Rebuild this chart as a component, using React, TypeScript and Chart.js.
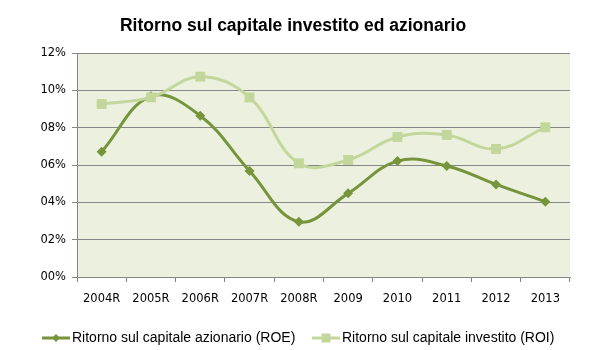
import React, { useEffect, useRef } from "react";
import { Chart, registerables } from "chart.js";

Chart.register(...registerables);

const categories = ["2004R", "2005R", "2006R", "2007R", "2008R", "2009", "2010", "2011", "2012", "2013"];
const roe = [0.0671, 0.0968, 0.0864, 0.0568, 0.0296, 0.0448, 0.0621, 0.0595, 0.0496, 0.0403];
const roi = [0.0927, 0.0962, 0.1073, 0.0962, 0.0609, 0.0627, 0.075, 0.0761, 0.0686, 0.0802];
const titleText = "Ritorno sul capitale investito ed azionario";
const roeLabel = "Ritorno sul capitale azionario (ROE)";
const roiLabel = "Ritorno sul capitale investito (ROI)";

const ROE_COLOR = "#77933C";
const ROI_COLOR = "#C3D69B";
const SANS = '"Liberation Sans", Arial, sans-serif';

const decorPlugin = {
  id: "decor",
  beforeDraw(chart: any) {
    const { ctx, chartArea } = chart;
    ctx.save();
    ctx.fillStyle = "#EBF1DE";
    ctx.fillRect(chartArea.left, chartArea.top, chartArea.right - chartArea.left, chartArea.bottom - chartArea.top);
    ctx.restore();
  },
  afterDraw(chart: any) {
    const { ctx } = chart;
    ctx.save();
    ctx.fillStyle = "#000";
    ctx.font = "bold 17.5px " + SANS;
    ctx.textAlign = "center";
    ctx.textBaseline = "alphabetic";
    ctx.fillText(titleText, 293, 31);

    const items = [
      { x: 42, label: roeLabel, color: ROE_COLOR, style: "diamond" },
      { x: 312, label: roiLabel, color: ROI_COLOR, style: "square" },
    ];
    const y = 338;
    for (const it of items) {
      ctx.strokeStyle = it.color;
      ctx.lineWidth = 3;
      ctx.beginPath();
      ctx.moveTo(it.x, y);
      ctx.lineTo(it.x + 28, y);
      ctx.stroke();
      ctx.fillStyle = it.color;
      const cx = it.x + 14;
      if (it.style === "diamond") {
        ctx.beginPath();
        ctx.moveTo(cx, y - 4);
        ctx.lineTo(cx + 4, y);
        ctx.lineTo(cx, y + 4);
        ctx.lineTo(cx - 4, y);
        ctx.closePath();
        ctx.fill();
      } else {
        ctx.fillRect(cx - 4.5, y - 4.5, 9, 9);
      }
      ctx.fillStyle = "#000";
      ctx.font = "14px " + SANS;
      ctx.textAlign = "left";
      ctx.textBaseline = "middle";
      ctx.fillText(it.label, it.x + 30, y);
    }
    ctx.restore();
  },
};

export default function App() {
  const ref = useRef<HTMLCanvasElement>(null);
  useEffect(() => {
    if (!ref.current) return;
    const chart = new Chart(ref.current, {
      type: "line",
      data: {
        labels: categories,
        datasets: [
          {
            label: roeLabel,
            data: roe,
            borderColor: ROE_COLOR,
            backgroundColor: ROE_COLOR,
            borderWidth: 3,
            tension: 0.4,
            pointStyle: "rectRot",
            pointRadius: 5,
            pointBorderWidth: 0,
            order: 2,
          },
          {
            label: roiLabel,
            data: roi,
            borderColor: ROI_COLOR,
            backgroundColor: ROI_COLOR,
            borderWidth: 3,
            tension: 0.4,
            pointStyle: "rect",
            pointRadius: 7,
            pointBorderWidth: 0,
            order: 1,
          },
        ],
      },
      options: {
        animation: false,
        responsive: false,
        layout: { padding: { top: 53, right: 27, left: 0, bottom: 0 } },
        plugins: { legend: { display: false }, title: { display: false }, tooltip: { enabled: false } },
        scales: {
          x: {
            offset: true,
            grid: {
              offset: true,
              drawOnChartArea: false,
              drawTicks: true,
              tickLength: 5,
              color: "#868686",
            },
            border: { color: "#868686", width: 1 },
            ticks: {
              color: "#000",
              font: { family: "DejaVu Sans", size: 11.5 },
              padding: 10,
              maxRotation: 0,
              autoSkip: false,
            },
            afterFit(scale: any) {
              scale.height = 73;
            },
          },
          y: {
            min: 0,
            max: 0.12,
            grid: { color: "#868686", tickLength: 5, drawTicks: true },
            border: { color: "#868686", width: 1 },
            ticks: {
              stepSize: 0.02,
              color: "#000",
              font: { family: "DejaVu Sans", size: 11.5 },
              padding: 6,
              callback: (v: any) => {
                const n = Math.round(Number(v) * 100);
                return (n < 10 ? "0" : "") + n + "%";
              },
            },
            afterFit(scale: any) {
              scale.width = 77;
            },
          },
        },
      },
      plugins: [decorPlugin],
    });
    return () => chart.destroy();
  }, []);
  return (
    <div style={{ position: "fixed", left: 0, top: 0, width: 597, height: 350, background: "#fff" }}>
      <canvas ref={ref} width={597} height={350} style={{ display: "block" }} />
    </div>
  );
}
